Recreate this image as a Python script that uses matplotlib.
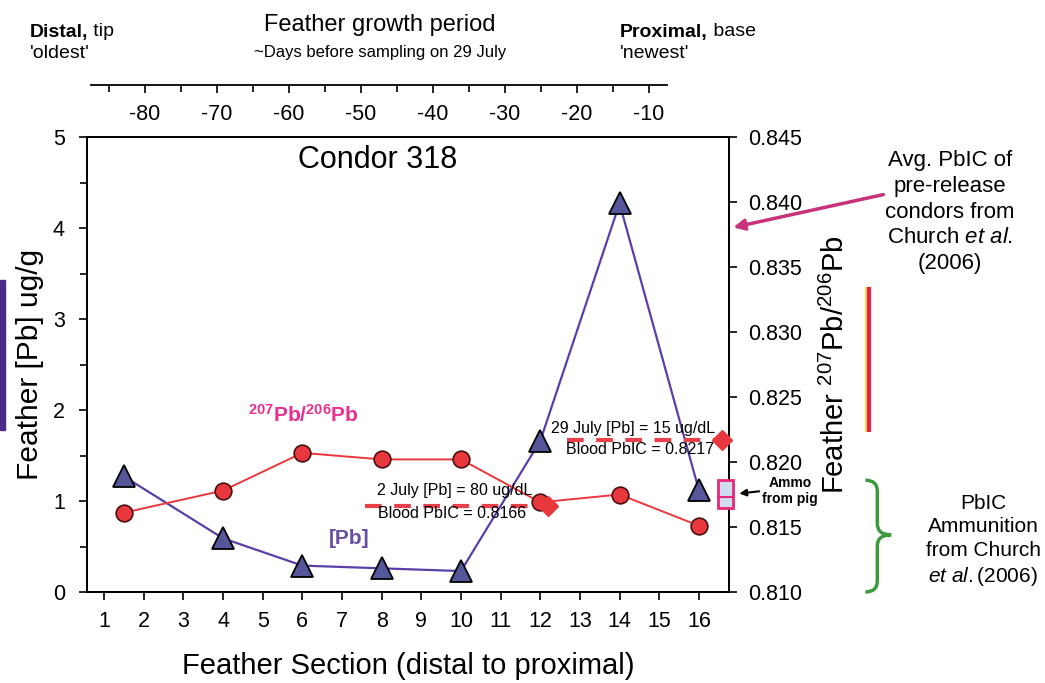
import numpy as np
import matplotlib
matplotlib.use('Agg')
import matplotlib.pyplot as plt
from matplotlib.patches import Rectangle, PathPatch
from matplotlib.path import Path

plt.rcParams['font.family'] = ['Liberation Sans', 'DejaVu Sans']
plt.rcParams['mathtext.fontset'] = 'custom'
plt.rcParams['mathtext.rm'] = 'Liberation Sans'
plt.rcParams['mathtext.it'] = 'Liberation Sans:italic'
plt.rcParams['mathtext.bf'] = 'Liberation Sans:bold'
plt.rcParams['axes.unicode_minus'] = False

# feather sections and measurements
section = [1.5, 4, 6, 8, 10, 12, 14, 16]
pb_ugg = [1.27, 0.59, 0.29, 0.26, 0.23, 1.66, 4.27, 1.12]
pbic = [0.8161, 0.8178, 0.8207, 0.8202, 0.8202, 0.8169, 0.8175, 0.8151]

# blood samples (section position, ratio, dashed line start)
blood_x = [12.2, 16.58]
blood_ratio = [0.8166, 0.8217]
blood_start = [7.58, 12.67]
blood_pb = ['2 July [Pb] = 80 ug/dL', '29 July [Pb] = 15 ug/dL']

# reference ranges
prerelease_avg = 0.838
prerelease_range = [0.8223, 0.8335]
ammo_range = [0.810, 0.8186]
pig_range = [0.8165, 0.8186]
pig_mid = 0.8173

day_ticks = [-80, -70, -60, -50, -40, -30, -20, -10]
day_minor = [-85, -75, -65, -55, -45, -35, -25, -15]

W, H = 1045, 683
def px(x, y):
    return (x / W, 1 - y / H)

fig = plt.figure(figsize=(W / 100, H / 100), dpi=100)
ax = fig.add_axes([87 / W, 1 - 592 / H, 642 / W, 455 / H])
ax2 = ax.twinx()

ax.set_xlim(0.57, 16.76)
ax.set_ylim(0, 5)
ax2.set_ylim(0.810, 0.845)

red = '#E8383D'
blue = '#55579A'

ax.plot(section, pb_ugg, color='#5B3FA8', lw=1.6, zorder=3)
ax.plot(section, pb_ugg, ls='none', marker='^', ms=16, mfc=blue,
        mec='black', mew=1.3, zorder=4)
ax2.plot(section, pbic, color=red, lw=1.4, marker='o', ms=12, mfc=red,
         mec='#4a1010', mew=1.2, zorder=4)

for x0, x1, r in zip(blood_start, blood_x, blood_ratio):
    ax2.plot([x0, x1], [r, r], color='#E8414A', lw=3, dashes=(4, 3), zorder=5,
             clip_on=False)
ax2.plot(blood_x, blood_ratio, ls='none', marker='D', ms=10, color=red,
         zorder=6, clip_on=False)

ax.set_xticks(range(1, 17))
ax.set_yticks(range(0, 6))
ax.set_yticks(np.arange(0.5, 5, 1.0), minor=True)
rticks = np.arange(0.810, 0.8451, 0.005)
ax2.set_yticks(rticks)
ax2.set_yticklabels([f'{v:.3f}' for v in rticks])
for a in (ax, ax2):
    a.tick_params(direction='out', length=6, width=1.2, labelsize=15.5)
    a.tick_params(which='minor', direction='out', length=5, width=1.2)
    for s in a.spines.values():
        s.set_linewidth(1.3)
ax.tick_params(axis='x', pad=8)
ax.tick_params(axis='y', pad=10)
ax2.tick_params(axis='y', pad=8)

ax.set_xlabel('Feather Section (distal to proximal)', fontsize=21, labelpad=14)
ax.set_ylabel('Feather [Pb] ug/g', fontsize=21.5, labelpad=6)
ax2.set_ylabel('Feather $^{207}$Pb/$^{206}$Pb', fontsize=21, labelpad=13)

fig.text(*px(378, 160), 'Condor 318', fontsize=22, ha='center', va='center')
fig.text(*px(303, 415), r'$\mathbf{^{207}Pb/^{206}Pb}$', color='#E83090',
         fontsize=15, ha='center', va='center')
fig.text(*px(349, 538), '[Pb]', color='#6A4FA0', fontsize=15,
         fontweight='bold', ha='center', va='center')

fig.text(*px(455, 490), blood_pb[0], fontsize=11.5, ha='center', va='center')
fig.text(*px(452, 514), 'Blood PbIC = %.4f' % blood_ratio[0], fontsize=11.5,
         ha='center', va='center')
fig.text(*px(633, 428), blood_pb[1], fontsize=11.5, ha='center', va='center')
fig.text(*px(640, 450), 'Blood PbIC = %.4f' % blood_ratio[1], fontsize=11.5,
         ha='center', va='center')

# ammo from pig box
ax2.add_patch(Rectangle((16.48, pig_range[0]), 0.38, pig_range[1] - pig_range[0],
                        facecolor='#CFDDF2', edgecolor='#E8287A', lw=2,
                        zorder=6, clip_on=False))
ax2.plot([16.48, 16.86], [pig_mid, pig_mid], color='#E8287A', lw=1.5,
         zorder=7, clip_on=False)
ax2.annotate('', xy=(16.95, np.mean(pig_range)), xytext=px(762, 491),
             textcoords='figure fraction', annotation_clip=False,
             arrowprops=dict(arrowstyle='-|>', color='black', lw=1.5,
                             mutation_scale=10))
fig.text(*px(790, 491), 'Ammo\nfrom pig', fontsize=10, fontweight='bold',
         ha='center', va='center', linespacing=1.1)

# average of pre-release condors
ax2.annotate('', xy=(16.8, prerelease_avg), xytext=px(886, 194),
             textcoords='figure fraction', annotation_clip=False,
             arrowprops=dict(arrowstyle='-|>', color='#C8327A', lw=2.5,
                             mutation_scale=16))
fig.text(*px(950, 212), 'Avg. PbIC of\npre-release\ncondors from\nChurch $\\it{et\\ al.}$\n(2006)',
         fontsize=16, ha='center', va='center', linespacing=1.3)

# pre-release range bar
bx = 20.28
ax2.plot([bx - 0.05, bx - 0.05], prerelease_range, color='#F2E040', lw=3,
         clip_on=False, solid_capstyle='butt')
ax2.plot([bx, bx], prerelease_range, color='#E8204A', lw=3, clip_on=False,
         solid_capstyle='butt')

# brace for ammunition range
y0, y1 = ammo_range
ym = (y0 + y1) / 2 + 0.0001
dy = (y1 - y0) * 0.1
xa, xb, xc = 20.2, 20.5, 20.85
verts = [(xa, y1), (xb, y1), (xb, y1 - dy),
         (xb, ym + dy),
         (xb, ym), (xc, ym),
         (xb, ym), (xb, ym - dy),
         (xb, y0 + dy),
         (xb, y0), (xa, y0)]
codes = [Path.MOVETO, Path.CURVE3, Path.CURVE3,
         Path.LINETO,
         Path.CURVE3, Path.CURVE3,
         Path.CURVE3, Path.CURVE3,
         Path.LINETO,
         Path.CURVE3, Path.CURVE3]
brace = PathPatch(Path(verts, codes), facecolor='none', edgecolor='#3E9A3E',
                  lw=2.5, clip_on=False)
ax2.add_patch(brace)
fig.text(*px(983, 541), 'PbIC\nAmmunition\nfrom Church\n$\\it{et\\ al.}$(2006)',
         fontsize=15, ha='center', va='center', linespacing=1.3)

# top days axis
axt = fig.add_axes([91 / W, 1 - 85 / H, 576 / W, 0.0001])
axt.set_xlim(-87.5, -7.5)
axt.set_yticks([])
for s in ['left', 'right', 'top']:
    axt.spines[s].set_visible(False)
axt.spines['bottom'].set_linewidth(1.3)
axt.set_xticks(day_ticks)
axt.set_xticks(day_minor, minor=True)
axt.tick_params(direction='out', length=6, width=1.2, labelsize=15.5, pad=8)
axt.tick_params(which='minor', direction='out', length=5, width=1.2)

fig.text(*px(380, 25), 'Feather growth period', fontsize=17, ha='center',
         va='center')
fig.text(*px(380, 52), '~Days before sampling on 29 July', fontsize=12,
         ha='center', va='center')

t1 = fig.text(*px(30, 32), 'Distal,', fontsize=14, fontweight='bold',
              ha='left', va='center')
ax.annotate(' tip', xy=(1, 0.5), xycoords=t1, fontsize=14, ha='left',
            va='center', annotation_clip=False)
fig.text(*px(30, 54), "'oldest'", fontsize=14, ha='left', va='center')
t2 = fig.text(*px(620, 32), 'Proximal,', fontsize=14, fontweight='bold',
              ha='left', va='center')
ax.annotate(' base', xy=(1, 0.5), xycoords=t2, fontsize=14, ha='left',
            va='center', annotation_clip=False)
fig.text(*px(620, 54), "'newest'", fontsize=14, ha='left', va='center')

# purple edge bar at the left border
fig.patches.append(Rectangle(px(0, 430), 5 / W, 150 / H, color='#4B2A8A',
                             transform=fig.transFigure, figure=fig))

fig.savefig('out.png', dpi=100)
